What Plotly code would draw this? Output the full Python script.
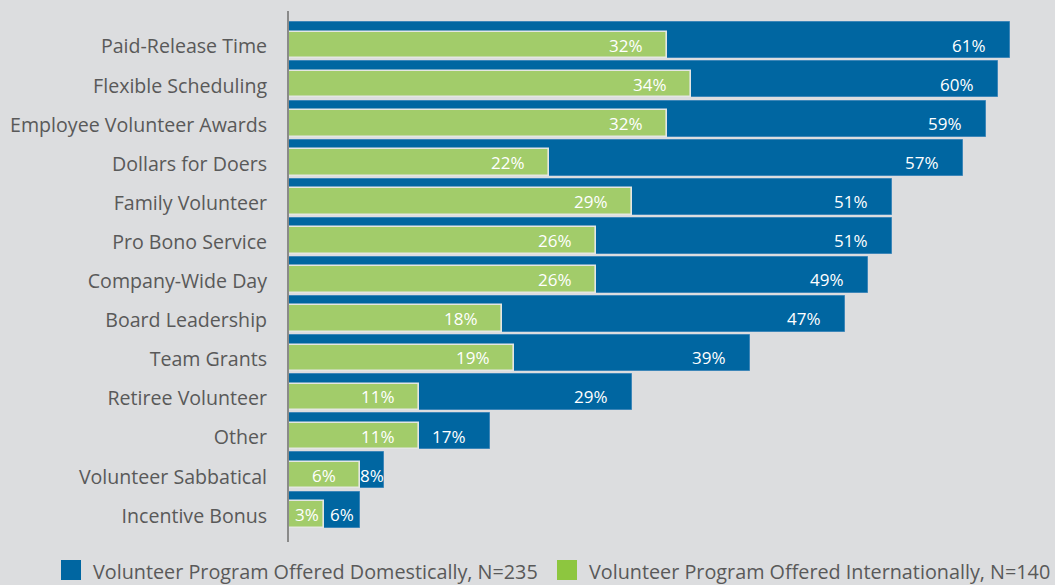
import plotly.graph_objects as go

# Volunteer program types and share of companies offering each
categories = [
    "Paid-Release Time", "Flexible Scheduling", "Employee Volunteer Awards",
    "Dollars for Doers", "Family Volunteer", "Pro Bono Service",
    "Company-Wide Day", "Board Leadership", "Team Grants", "Retiree Volunteer",
    "Other", "Volunteer Sabbatical", "Incentive Bonus",
]
domestic = [61, 60, 59, 57, 51, 51, 49, 47, 39, 29, 17, 8, 6]
international = [32, 34, 32, 22, 29, 26, 26, 18, 19, 11, 11, 6, 3]

legend_names = [
    "Volunteer Program Offered Domestically, N=235",
    "Volunteer Program Offered Internationally, N=140",
]

BLUE = "#0066a1"
GREEN = "#a2cc6a"
GREEN_KEY = "#8dc63f"
BG = "#dcdddf"
GREY_TEXT = "#595959"
FONT = "Open Sans"

# canvas geometry (pixels)
W, H = 1055, 585
L, R, T, B = 289, 0, 11, 43
plot_w = W - L - R
plot_h = H - T - B
X_MAX = 64.8

rows = list(range(len(categories)))
blue_w = 0.92
green_w = 0.68
green_shift = (blue_w - green_w) / 2  # green bars share the bottom edge of the blue bars

fig = go.Figure()
fig.add_trace(go.Bar(
    x=domestic, y=rows, orientation="h", width=blue_w,
    marker=dict(color=BLUE, line=dict(color="#3d86b8", width=1)),
    hoverinfo="x", showlegend=False,
))
fig.add_trace(go.Bar(
    x=international, y=[r + green_shift for r in rows], orientation="h", width=green_w,
    marker=dict(color=GREEN, line=dict(color="#e4e6e4", width=1.6)),
    hoverinfo="x", showlegend=False,
))

# value labels, placed inside the visible part of each bar
label_font = dict(family=FONT, size=17, color="white")
annotations = []
for r, d, g in zip(rows, domestic, international):
    yc = r + green_shift
    for start, end in ((0, g), (g, d)):
        if end - start < 5:
            annotations.append(dict(x=(start + end) / 2, y=yc, text=f"{end}%",
                                    xanchor="center", yanchor="middle",
                                    showarrow=False, font=label_font))
        else:
            annotations.append(dict(x=end, y=yc, text=f"{end}%", xshift=-22,
                                    xanchor="right", yanchor="middle",
                                    showarrow=False, font=label_font))

# legend drawn beneath the chart
def px_x(px):
    return (px - L) / plot_w

def px_y(py):
    return (H - B - py) / plot_h

shapes = []
for x0, col, name in ((61, BLUE, legend_names[0]), (557, GREEN_KEY, legend_names[1])):
    shapes.append(dict(type="rect", xref="paper", yref="paper",
                       x0=px_x(x0), x1=px_x(x0 + 20), y0=px_y(560), y1=px_y(580),
                       fillcolor=col, line=dict(width=0)))
    annotations.append(dict(xref="paper", yref="paper", x=px_x(x0 + 30), y=px_y(571),
                            text=name, xanchor="left", yanchor="middle", showarrow=False,
                            font=dict(family=FONT, size=19.8, color=GREY_TEXT)))

fig.update_layout(
    width=W, height=H,
    margin=dict(l=L, r=R, t=T, b=B, pad=0),
    paper_bgcolor=BG, plot_bgcolor=BG,
    barmode="overlay",
    bargap=0,
    xaxis=dict(range=[0, X_MAX], showgrid=False, zeroline=False,
               showticklabels=False, showline=False, fixedrange=True),
    yaxis=dict(range=[len(categories) - 1 + 0.83, -0.75],
               tickvals=[r + 0.16 for r in rows], ticktext=categories,
               showgrid=False, zeroline=False, ticks="",
               showline=True, linecolor="#8a8a8a", linewidth=2,
               ticklabelstandoff=16,
               tickfont=dict(family=FONT, size=19.6, color=GREY_TEXT),
               fixedrange=True),
    annotations=annotations,
    shapes=shapes,
    showlegend=False,
)

fig.write_html("out.html")
